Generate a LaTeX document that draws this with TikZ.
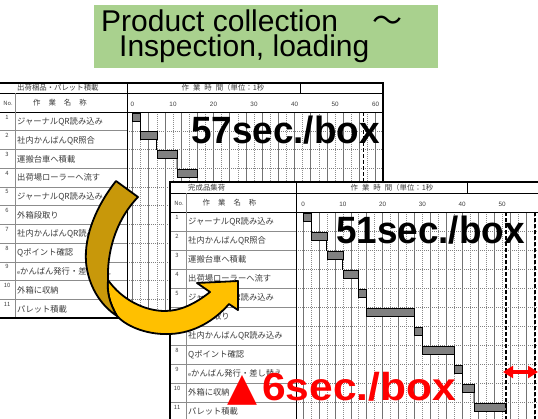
\documentclass[tikz,border=0pt]{standalone}
\usepackage{fontspec}
\setmainfont{Liberation Sans}
\newfontfamily\cjk{Noto Sans CJK JP}
\newfontfamily\djv{DejaVu Sans}
\newfontfamily\bigbold[FakeStretch=0.97]{Liberation Sans}
\newfontfamily\redbold[FakeStretch=1.09]{Liberation Sans}
\usetikzlibrary{arrows.meta}

\definecolor{titlegreen}{RGB}{169,209,142}
\definecolor{arrowfront}{RGB}{255,192,0}
\definecolor{arrowback}{RGB}{200,152,10}
\definecolor{tabink}{RGB}{60,60,60}

\tikzset{
  frame/.style={draw=black, line width=1.1pt},
  sepline/.style={draw=black, line width=0.7pt},
  rowline/.style={draw=black!45, line width=0.5pt},
  gridsolid/.style={draw=black!55, line width=0.45pt},
  griddot/.style={draw=black!45, line width=0.45pt, dash pattern=on 1pt off 1pt},
  rowdot/.style={draw=black!50, line width=0.45pt, dash pattern=on 1pt off 1pt},
  tabtext/.style={font=\cjk\fontsize{8.3}{9}\selectfont, text=tabink, inner sep=0pt, anchor=west},
  numtext/.style={font=\cjk\fontsize{5.8}{6}\selectfont, text=tabink, inner sep=0pt},
  headtext/.style={font=\cjk\fontsize{7.4}{8}\selectfont, text=tabink, inner sep=0pt},
  scaletext/.style={font=\fontsize{6.3}{7}\selectfont, text=tabink, inner sep=0pt},
  bar/.style={draw=black, line width=0.6pt, fill=black!50, minimum height=8pt,
              inner sep=0pt, outer sep=0pt, anchor=north west},
  link/.style={draw=black, line width=0.9pt},
  limit/.style={draw=black, line width=1.4pt, dash pattern=on 4pt off 2pt},
  bigtext/.style={font=\bigbold\bfseries\fontsize{38}{38}\selectfont, inner sep=0pt, anchor=base west},
  redtext/.style={font=\redbold\bfseries\fontsize{39}{39}\selectfont, text=red, inner sep=0pt, anchor=base west},
  titletext/.style={font=\fontsize{30}{30}\selectfont, inner sep=0pt, anchor=base west},
  bandline/.style={draw=black, line width=1.8pt, line join=round},
}

\begin{document}
\begin{tikzpicture}[x=1pt, y=-1pt]
\useasboundingbox (0,0) rectangle (538,418);
\clip (0,0) rectangle (538,418);

% ---------------- title ----------------
\node[fill=titlegreen, minimum width=344pt, minimum height=63pt, inner sep=0pt] (titlebox) at (265.5,36.5) {};
\node[titletext] (title1) at (101,31) {Product collection};
\node[titletext, font=\cjk\fontsize{30}{30}\selectfont] (title1b) at (372,31) {～};
\node[titletext] (title2) at (119,56) {Inspection, loading};

% ---------------- first chart: 57 s ----------------
\def\tAx{132.5}
\def\tAs{4.05}
\def\rowA{18.727}
\fill[white] (-1,83) rectangle (383,318);
\foreach \t in {0,4,...,60} \draw[gridsolid] ({\tAx+\tAs*\t},112) -- ({\tAx+\tAs*\t},318);
\foreach \t in {2,6,...,58} \draw[griddot] ({\tAx+\tAs*\t},112) -- ({\tAx+\tAs*\t},318);
\foreach \i in {1,...,10} {
  \pgfmathsetmacro\yy{112+\i*\rowA}
  \draw[rowline] (-1,\yy) -- (127,\yy);
  \draw[rowdot] (127,\yy) -- (383,\yy);
}
\draw[sepline] (-1,93) -- (383,93);
\draw[sepline] (-1,112) -- (383,112);
\draw[rowline] (15,93) -- (15,318);
\draw[sepline] (127,83) -- (127,318);
\draw[sepline] (300,83) -- (300,93);
\draw[frame] (-1,83) rectangle (383,318);

\node[headtext, anchor=west] (t1title) at (17,88) {出荷梱品・パレット積載};
\node[headtext] (t1timehd) at (223,88) {作\hspace{4pt}業\hspace{4pt}時\hspace{4pt}間（単位：1秒};
\node[numtext] (t1nohd) at (8,103) {No.};
\node[headtext] (t1namehd) at (60,103) {作\hspace{8pt}業\hspace{8pt}名\hspace{8pt}称};
\foreach \t in {0,10,...,60} \node[scaletext] (t1s\t) at ({\tAx+\tAs*\t},104) {\t};

\foreach \nm [count=\i] in {ジャーナルQR読み込み,社内かんばんQR照合,運搬台車へ積載,出荷場ローラーへ流す,ジャーナルQR読み込み,外箱段取り,社内かんばんQR読み込み,Qポイント確認,{{\fontsize{5.5}{6}\selectfont e}かんばん発行・差し替え},外箱に収納,パレット積載} {
  \pgfmathsetmacro\yy{112+(\i-1)*\rowA}
  \node[numtext] (t1no\i) at (7,\yy+5) {\i};
  \node[tabtext] (t1name\i) at (17,\yy+9.6) {\nm};
}

\foreach \a/\b [count=\i] in {0/2,2/6,6/11,11/16} {
  \pgfmathsetmacro\bx{\tAx+\tAs*\a}
  \pgfmathsetmacro\bw{\tAs*(\b-\a)}
  \pgfmathsetmacro\by{112+(\i-1)*\rowA+1}
  \node[bar, minimum width=\bw pt] (t1bar\i) at (\bx,\by) {};
}
\foreach \i [evaluate=\i as \j using int(\i+1)] in {1,2,3}
  \draw[link] (t1bar\i.south east) -- (t1bar\j.north west);

\coordinate (t1limtop) at ({\tAx+\tAs*57},112);
\coordinate (t1limbot) at ({\tAx+\tAs*57},318);
\draw[limit] (t1limtop) -- (t1limbot);

\node[bigtext] (t1total) at (191,143) {57sec./box};

% ---------------- second chart: 51 s ----------------
\def\tBx{303}
\def\tBs{3.98}
\def\rowB{19}
\fill[white] (170,182) rectangle (545,425);
\foreach \t in {0,4,...,60} \draw[gridsolid] ({\tBx+\tBs*\t},212) -- ({\tBx+\tBs*\t},425);
\foreach \t in {2,6,...,58} \draw[griddot] ({\tBx+\tBs*\t},212) -- ({\tBx+\tBs*\t},425);
\foreach \i in {1,...,10} {
  \pgfmathsetmacro\yy{212+\i*\rowB}
  \draw[rowline] (170,\yy) -- (296,\yy);
  \draw[rowdot] (296,\yy) -- (545,\yy);
}
\draw[sepline] (170,193) -- (545,193);
\draw[sepline] (170,212) -- (545,212);
\draw[rowline] (186,193) -- (186,425);
\draw[sepline] (296,182) -- (296,425);
\draw[sepline] (467,182) -- (467,193);
\draw[frame] (170,182) rectangle (545,425);

\node[headtext, anchor=west] (t2title) at (188,188) {完成品集荷};
\node[headtext] (t2timehd) at (392,188) {作\hspace{4pt}業\hspace{4pt}時\hspace{4pt}間（単位：1秒};
\node[numtext] (t2nohd) at (179,203) {No.};
\node[headtext] (t2namehd) at (229.5,203) {作\hspace{8pt}業\hspace{8pt}名\hspace{8pt}称};
\foreach \t in {0,10,...,60} \node[scaletext] (t2s\t) at ({\tBx+\tBs*\t},204) {\t};

\foreach \nm [count=\i] in {ジャーナルQR読み込み,社内かんばんQR照合,運搬台車へ積載,出荷場ローラーへ流す,ジャーナルQR読み込み,外箱段取り,社内かんばんQR読み込み,Qポイント確認,{{\fontsize{5.5}{6}\selectfont e}かんばん発行・差し替え},外箱に収納,パレット積載} {
  \pgfmathsetmacro\yy{212+(\i-1)*\rowB}
  \node[numtext] (t2no\i) at (177,\yy+5) {\i};
  \node[tabtext] (t2name\i) at (188,\yy+9.8) {\nm};
}

\foreach \a/\b [count=\i] in {0/2,2/6,6/10,10/14,14/16,16/28,28/30,30/38,38/40,40/43,43/51} {
  \pgfmathsetmacro\bx{\tBx+\tBs*\a}
  \pgfmathsetmacro\bw{\tBs*(\b-\a)}
  \pgfmathsetmacro\by{212+(\i-1)*\rowB+1}
  \node[bar, minimum width=\bw pt] (t2bar\i) at (\bx,\by) {};
}
\foreach \i [evaluate=\i as \j using int(\i+1)] in {1,...,10}
  \draw[link] (t2bar\i.south east) -- (t2bar\j.north west);

\coordinate (t2limtop) at (506,212);
\coordinate (t2limbot) at (506,425);
\draw[limit] (t2limtop) -- (t2limbot);
\coordinate (t2oldtop) at (535,212);
\coordinate (t2oldbot) at (535,425);
\draw[limit] (t2oldtop) -- (t2oldbot);

\node[bigtext] (t2total) at (336,243) {51sec./box};

% ---------------- curved transfer arrow ----------------
% front (light) band ending in the head
\path[bandline, fill=arrowfront]
  (108,280) .. controls (107,292) and (109,302) .. (117,316)
  .. controls (128,328) and (150,335) .. (170,334)
  .. controls (195,333) and (215,320) .. (229,304)
  -- (238,310) -- (238,281) -- (197,283) -- (210,292)
  .. controls (195,304) and (180,311) .. (165,311)
  .. controls (145,311) and (122,300) .. cycle;
% back (dark) band starting at the tail
\path[bandline, fill=arrowback]
  (116,181) .. controls (97,205) and (84,235) .. (86,262)
  .. controls (88,285) and (100,305) .. (117,316)
  .. controls (109,302) and (107,292) .. (108,280)
  .. controls (107,255) and (114,222) .. (138,197) -- cycle;

% ---------------- saving ----------------
\node[redtext] (gain) at (227,400) {{\djv ▲}\hspace{5pt}6sec./box};
\coordinate (gapL) at (503,372);
\coordinate (gapR) at (538,372);
\draw[red, line width=3.4pt, {Triangle[width=12pt,length=10pt]}-{Triangle[width=12pt,length=10pt]}] (gapL) -- (gapR);
\end{tikzpicture}
\end{document}
